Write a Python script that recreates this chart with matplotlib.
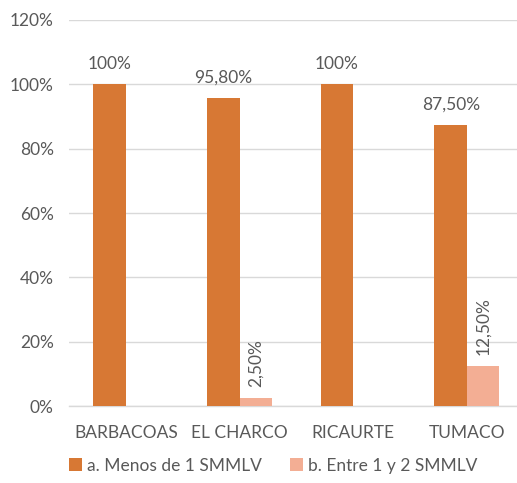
import matplotlib.pyplot as plt
import numpy as np
from matplotlib.ticker import FuncFormatter

# Data
municipios = ["BARBACOAS", "EL CHARCO", "RICAURTE", "TUMACO"]
menos_1 = [100, 95.8, 100, 87.5]
entre_1_2 = [0, 2.5, 0, 12.5]
labels_menos = ["100%", "95,80%", "100%", "87,50%"]
labels_entre = ["", "2,50%", "", "12,50%"]
series_names = ["a. Menos de 1 SMMLV", "b. Entre 1 y 2 SMMLV"]
y_ticks = [0, 20, 40, 60, 80, 100, 120]


def main():
    plt.rcParams['font.family'] = ['Lato', 'DejaVu Sans']
    grey = "#595959"
    orange = "#D77834"
    salmon = "#F3AE94"

    fig = plt.figure(figsize=(5.17, 4.83), dpi=100)
    ax = fig.add_axes([0.1335, 0.1594, 0.8797, 0.7992])

    x = np.arange(len(municipios))
    w = 0.286
    b1 = ax.bar(x - w / 2, menos_1, w, color=orange, label=series_names[0], zorder=3)
    b2 = ax.bar(x + w / 2, entre_1_2, w, color=salmon, label=series_names[1], zorder=3)

    for rect, lab in zip(b1, labels_menos):
        ax.text(rect.get_x() + rect.get_width() / 2, rect.get_height() + 3.7, lab,
                ha="center", va="bottom", fontsize=12.5, color=grey)
    for rect, lab in zip(b2, labels_entre):
        if lab:
            ax.text(rect.get_x() + rect.get_width() / 2, rect.get_height() + 3.5, lab,
                    ha="center", va="bottom", rotation=90, fontsize=12.5, color=grey)

    ax.set_xlim(-0.5, len(municipios) - 0.5)
    ax.set_ylim(0, 120)
    ax.set_yticks(y_ticks)
    ax.yaxis.set_major_formatter(FuncFormatter(lambda v, p: f"{v:.0f}%"))
    ax.set_xticks(x)
    ax.set_xticklabels(municipios)
    ax.tick_params(axis="both", length=0, labelsize=12.5, labelcolor=grey)
    ax.tick_params(axis="x", pad=14)
    ax.tick_params(axis="y", pad=11)

    ax.grid(axis="y", color="#D9D9D9", linewidth=1, zorder=0)
    for side in ["top", "right", "left"]:
        ax.spines[side].set_visible(False)
    ax.spines["bottom"].set_color("#D9D9D9")
    ax.spines["bottom"].set_linewidth(1)

    leg = fig.legend(handles=[b1, b2], loc="center left", bbox_to_anchor=(0.133, 0.036),
                     ncol=2, frameon=False, fontsize=12.5, handlelength=0.75, handleheight=0.75,
                     handletextpad=0.3, columnspacing=1.6, borderaxespad=0, borderpad=0)
    for t in leg.get_texts():
        t.set_color(grey)

    fig.savefig("out.png", dpi=100)
    plt.close(fig)


if __name__ == "__main__":
    main()
